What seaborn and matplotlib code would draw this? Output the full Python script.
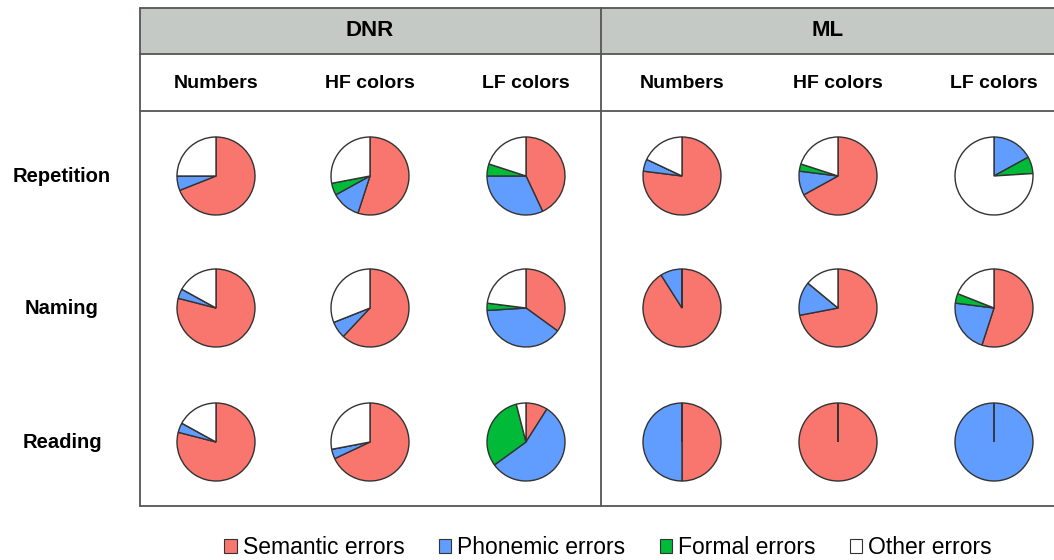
import numpy as np
import pandas as pd
import seaborn as sns
import matplotlib.pyplot as plt
from matplotlib.patches import Patch, Rectangle

# categories / labels
groups = ["DNR", "ML"]
stimuli = ["Numbers", "HF colors", "LF colors"]
tasks = ["Repetition", "Naming", "Reading"]
error_types = ["Semantic errors", "Phonemic errors", "Formal errors", "Other errors"]

# percentages, row-major: task x (DNR Numbers, HF, LF, ML Numbers, HF, LF)
semantic = [69, 55, 43, 77, 67, 0,
            79, 62, 35, 91, 72, 55,
            79, 68, 9, 50, 100, 0]
phonemic = [6, 12, 32, 5, 10, 17,
            4, 7, 39, 9, 14, 22,
            4, 4, 56, 50, 0, 100]
formal = [0, 5, 5, 0, 3, 7,
          0, 0, 3, 0, 0, 4,
          0, 0, 31, 0, 0, 0]
other = [25, 28, 20, 18, 20, 76,
         17, 31, 23, 0, 14, 19,
         17, 28, 4, 0, 0, 0]

colors = ["#F8766D", "#619CFF", "#00BA38", "#FFFFFF"]

sns.set_theme(style="white")
plt.rcParams['font.family'] = ['Liberation Sans', 'DejaVu Sans']
plt.rcParams['text.color'] = 'black'

W, H = 1054, 560
fig = plt.figure(figsize=(W / 100, H / 100), dpi=100)

# overlay axes in pixel coords for the table frame
bg = fig.add_axes([0, 0, 1, 1])
bg.set_xlim(0, W)
bg.set_ylim(H, 0)
bg.axis("off")

line_c = "#555555"
bg.add_patch(Rectangle((140, 8), W - 140 + 5, 46, facecolor="#C5C9C5", edgecolor="none"))
bg.plot([140, W], [8, 8], color=line_c, lw=1.3)
bg.plot([140, W], [54, 54], color=line_c, lw=1.3)
bg.plot([140, W], [111, 111], color=line_c, lw=1.3)
bg.plot([140, W], [506, 506], color=line_c, lw=1.3)
bg.plot([140, 140], [8, 506], color=line_c, lw=1.3)
bg.plot([601, 601], [8, 506], color=line_c, lw=1.3)

group_x = [370, 828]
for g, gx in zip(groups, group_x):
    bg.text(gx, 31, g, ha="center", va="center", fontsize=16, fontweight="bold", color="black")

col_x = [216, 370, 526, 682, 838, 994]
row_y = [176, 308, 442]
for i, cx in enumerate(col_x):
    bg.text(cx, 84, stimuli[i % 3], ha="center", va="center", fontsize=14,
            fontweight="bold", color="black")
for t, ry in zip(tasks, row_y):
    bg.text(62, ry, t, ha="center", va="center", fontsize=14.5, fontweight="bold", color="black")

# pies
r_px = 39
box = 84
df = pd.DataFrame({"semantic": semantic, "phonemic": phonemic,
                   "formal": formal, "other": other})
for k, row in df.iterrows():
    ri, ci = divmod(k, 6)
    cx, cy = col_x[ci], row_y[ri]
    ax = fig.add_axes([(cx - box / 2) / W, 1 - (cy + box / 2) / H, box / W, box / H])
    ax.pie(row.values, colors=colors, startangle=90, counterclock=False,
           radius=1, wedgeprops=dict(edgecolor="#333333", linewidth=1.0))
    lim = box / 2 / r_px
    ax.set_xlim(-lim, lim)
    ax.set_ylim(-lim, lim)
    ax.set_aspect("equal")
    ax.axis("off")

handles = [Patch(facecolor=c, edgecolor="#333333", linewidth=0.8) for c in colors]
leg = fig.legend(handles, error_types, loc="center", bbox_to_anchor=(608 / W, 1 - 548 / H),
                 ncol=4, frameon=False, fontsize=16.5, handlelength=0.55, handleheight=0.55,
                 handletextpad=0.25, columnspacing=1.5)
for txt in leg.get_texts():
    txt.set_color("black")

fig.savefig("out.png", dpi=100)
